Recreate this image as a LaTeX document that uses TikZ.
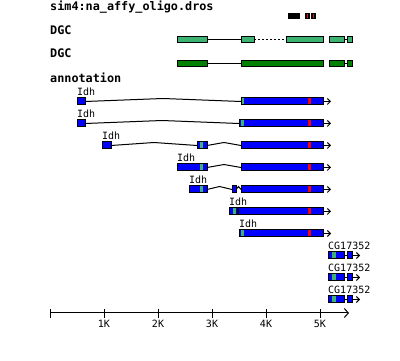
\documentclass[tikz,border=0pt]{standalone}
\usepackage{fontspec}
\usetikzlibrary{arrows.meta}
\newfontfamily\lblfont[BoldFont={DejaVu Sans Mono Bold}]{DejaVu Sans Mono}
\definecolor{sgreen}{RGB}{60,179,113}
\definecolor{dgreen}{RGB}{0,128,0}
\definecolor{mred}{RGB}{255,0,0}
\definecolor{mblue}{RGB}{0,0,255}
\definecolor{cred}{RGB}{220,20,60}
\tikzset{
  trk/.style={font=\lblfont\bfseries\fontsize{11.8}{12}\selectfont, anchor=base west, inner sep=0pt},
  glab/.style={font=\lblfont\fontsize{10}{12}\selectfont, anchor=base west, inner sep=0pt},
  axlab/.style={font=\lblfont\fontsize{10}{12}\selectfont, anchor=base, inner sep=0pt},
  intr/.style={draw=black, line width=1pt},
  lgbox/.style={fill=sgreen, draw=black, line width=1pt},
  dgbox/.style={fill=dgreen, draw=black, line width=1pt},
}
\newcommand\bx[4]{\filldraw[fill=#4,draw=black,line width=1pt] (#1,#3) rectangle (#2,#3+7);}
\newcommand\stripe[4]{\fill[#4] (#1,#3+0.5) rectangle (#2,#3+6.5);}
\newcommand\ihat[3]{\draw[intr] (#1,#3+3.5) -- ({(#1+#2)/2},#3+0.5) -- (#2,#3+3.5);}
\newcommand\tail[2]{\draw[intr,-{Straight Barb[length=3pt,width=6pt]}] (#1,#2+3.5) -- (#1+8,#2+3.5);}
\newcommand\mainbox[2]{\bx{#1}{323}{#2}{mblue}\stripe{308}{311}{#2}{mred}\tail{323}{#2}}
\begin{document}
\begin{tikzpicture}[x=1pt,y=-1pt]
\useasboundingbox (0,0) rectangle (400,361);
% track labels
\node[trk] (t0) at (50,10.5) {sim4:na\_affy\_oligo.dros};
\node[trk] (t1) at (50,35) {DGC};
\node[trk] (t2) at (50,58) {DGC};
\node[trk] (t3) at (50,83) {annotation};
% sim4 features
\fill[black] (288,13) rectangle (300,19);
\fill[black] (305,13) rectangle (309.5,19);
\fill[black] (311,13) rectangle (315.5,19);
\fill[cred] (306.6,14) rectangle (308,18);
\fill[cred] (312.6,14) rectangle (314,18);
% DGC 1
\draw[intr] (207,40) -- (241,40);
\draw[intr, dash pattern=on 2pt off 2pt] (254,40) -- (286,40);
\draw[intr] (344,40) -- (347,40);
\draw[lgbox] (177,37) rectangle (207,43);
\draw[lgbox] (241,37) rectangle (254,43);
\draw[lgbox] (286,37) rectangle (323,43);
\draw[lgbox] (329,37) rectangle (344,43);
\draw[lgbox] (347,37) rectangle (352,43);
% DGC 2
\draw[intr] (207,64) -- (241,64);
\draw[intr] (344,64) -- (347,64);
\draw[dgbox] (177,61) rectangle (207,67);
\draw[dgbox] (241,61) rectangle (323,67);
\draw[dgbox] (329,61) rectangle (344,67);
\draw[dgbox] (347,61) rectangle (352,67);
% annotation row 1
\node[glab] (l1) at (77,95.5) {Idh};
\ihat{85}{241}{98}
\bx{77}{85}{98}{mblue}
\mainbox{241}{98}
\stripe{241.5}{244}{98}{sgreen}
% row 2
\node[glab] (l2) at (77,117.5) {Idh};
\ihat{85}{239}{120}
\bx{77}{85}{120}{mblue}
\mainbox{239}{120}
\stripe{241}{244}{120}{sgreen}
% row 3
\node[glab] (l3) at (102,139.5) {Idh};
\ihat{111}{197}{142}
\ihat{207}{241}{142}
\bx{102}{111}{142}{mblue}
\bx{197}{207}{142}{mblue}
\stripe{200}{203}{142}{sgreen}
\mainbox{241}{142}
% row 4
\node[glab] (l4) at (177,161.5) {Idh};
\ihat{207}{241}{164}
\bx{177}{207}{164}{mblue}
\stripe{200}{203}{164}{sgreen}
\mainbox{241}{164}
% row 5
\node[glab] (l5) at (189,183.5) {Idh};
\ihat{207}{232}{186}
\ihat{236}{241}{186}
\bx{189}{207}{186}{mblue}
\stripe{200}{203}{186}{sgreen}
\bx{232}{236}{186}{mblue}
\mainbox{241}{186}
% row 6
\node[glab] (l6) at (229,205.5) {Idh};
\bx{229}{237}{208}{mblue}
\stripe{233}{236}{208}{sgreen}
\mainbox{238.5}{208}
% row 7
\node[glab] (l7) at (239,227.5) {Idh};
\mainbox{239}{230}
\stripe{241}{244}{230}{sgreen}
% CG17352 rows
\foreach \t/\b in {252/249.5, 274/271.5, 296/293.5}{
  \node[glab] at (328,\b) {CG17352};
  \draw[intr] (344,\t+3.5) -- (347,\t+3.5);
  \bx{328}{344}{\t}{mblue}
  \stripe{332}{336}{\t}{sgreen}
  \bx{347}{352}{\t}{mblue}
  \tail{352}{\t}
}
% axis
\coordinate (a0) at (50,313);
\coordinate (a1) at (349,313);
\draw[intr,-{Straight Barb[length=4pt,width=9pt]}] (a0) -- (a1);
\foreach \x in {50,104,158,212,266,320}{
  \draw[intr] (\x,309) -- (\x,318);
}
\foreach \x/\k in {104/1,158/2,212/3,266/4,320/5}{
  \node[axlab] at (\x,327.5) {\k K};
}
\end{tikzpicture}
\end{document}
